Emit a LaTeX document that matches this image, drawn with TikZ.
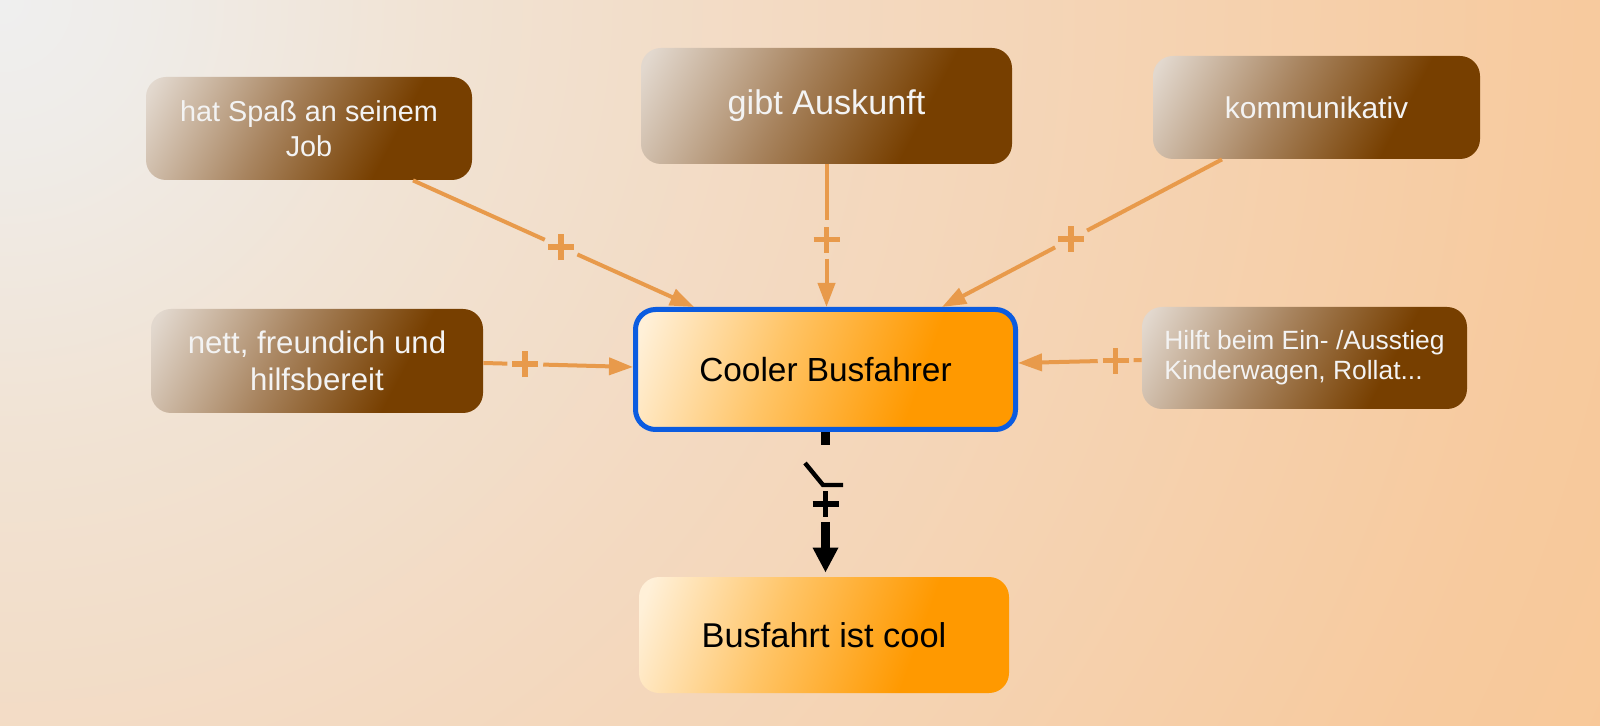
\documentclass[tikz,border=0pt]{standalone}
\usepackage{fontspec}
\setmainfont{Liberation Sans}
\usetikzlibrary{arrows.meta,calc}
\definecolor{brA}{HTML}{E2D8CE}
\definecolor{brB}{HTML}{A8845F}
\definecolor{brC}{HTML}{773F00}
\definecolor{orA}{HTML}{FFF0D8}
\definecolor{orB}{HTML}{FFC466}
\definecolor{orC}{HTML}{FF9900}
\definecolor{bg0}{HTML}{EFEFEF}
\definecolor{bg1}{HTML}{EFECE8}
\definecolor{bg2}{HTML}{F1E3D4}
\definecolor{bg3}{HTML}{F3DAC2}
\definecolor{bg4}{HTML}{F5D3B2}
\definecolor{bg5}{HTML}{F7CA9E}
\definecolor{bg6}{HTML}{F8C898}
\definecolor{connc}{HTML}{E89A4B}
\definecolor{blueb}{HTML}{0B5CE0}
\definecolor{txtw}{HTML}{F3F3F3}
\pgfdeclarehorizontalshading{brownsh}{100bp}{color(0bp)=(brA); color(18bp)=(brA); color(43bp)=(brB); color(66bp)=(brC); color(100bp)=(brC)}
\pgfdeclarehorizontalshading{orangesh}{100bp}{color(0bp)=(orA); color(20bp)=(orA); color(42bp)=(orB); color(65bp)=(orC); color(100bp)=(orC)}
\pgfdeclareradialshading{bgsh}{\pgfpointorigin}{color(0bp)=(bg0); color(2bp)=(bg1); color(6bp)=(bg2); color(11bp)=(bg3); color(16bp)=(bg4); color(22bp)=(bg5); color(25bp)=(bg6); color(50bp)=(bg6)}
\tikzset{
  plusmark/.pic={\draw[line width=2.8pt,line cap=butt] (-6.5pt,0pt) -- (6.5pt,0pt) (0pt,-6.5pt) -- (0pt,6.5pt);},
}
\begin{document}
\begin{tikzpicture}[x=0.5pt,y=-0.5pt,
  box/.style={rectangle, rounded corners=10pt, inner sep=0pt, align=center},
  brownbox/.style={box, shade, shading=brownsh, shading angle=-28, text=txtw},
  orangebox/.style={box, shade, shading=orangesh, shading angle=-20, text=black},
  conn/.style={draw=connc, line width=2pt},
  connarrow/.style={conn, -{Triangle[length=12pt,width=8.5pt]}},
  blk/.style={draw=black, line width=4.8pt},
]
\useasboundingbox (0,0) rectangle (1600,726);
\begin{scope}
  \clip (0,0) rectangle (1600,726);
  \shade[shading=bgsh] (-1800,-1800) rectangle (1800,1800);
\end{scope}

% nodes
\node[brownbox, minimum width=163pt, minimum height=51.5pt, font=\fontsize{14.4}{17.5}\selectfont] (spass) at (309,128.5) {hat Spaß an seinem\\Job};
\node[brownbox, minimum width=185.5pt, minimum height=58pt, font=\fontsize{17.1}{20}\selectfont] (auskunft) at (826.5,106) {gibt Auskunft};
\node[brownbox, minimum width=163.5pt, minimum height=51.5pt, font=\fontsize{15}{18}\selectfont] (komm) at (1316.5,107.5) {kommunikativ};
\node[brownbox, minimum width=166pt, minimum height=52pt, font=\fontsize{15.6}{18.5}\selectfont] (nett) at (317,361) {nett, freundich und\\hilfsbereit};
\node[brownbox, minimum width=162.5pt, minimum height=51pt, font=\fontsize{13.2}{15}\selectfont, align=left] (hilft) at (1304.5,358) {Hilft beim Ein- /Ausstieg\\Kinderwagen, Rollat...};
\node[orangebox, draw=blueb, line width=2.5pt, minimum width=190pt, minimum height=60pt, font=\fontsize{16.7}{20}\selectfont] (cooler) at (825.5,369.5) {Cooler Busfahrer};
\node[orangebox, minimum width=185pt, minimum height=58pt, font=\fontsize{17.2}{20}\selectfont] (busfahrt) at (824,635) {Busfahrt ist cool};

% edge 1: spass -> cooler
\path ([xshift=52pt]spass.south) -- ([xshift=-65.75pt]cooler.north)
  coordinate[pos=0.469] (e1a) coordinate[pos=0.527] (e1p) coordinate[pos=0.585] (e1b);
\draw[conn] ([xshift=52pt]spass.south) -- (e1a);
\draw[connarrow] (e1b) -- ([xshift=-65.75pt]cooler.north);
\pic[connc] (p1) at (e1p) {plusmark};

% edge 2: auskunft -> cooler
\path (auskunft.south) -- (auskunft.south |- cooler.north)
  coordinate[pos=0.391] (e2a) coordinate[pos=0.527] (e2p) coordinate[pos=0.660] (e2b);
\draw[conn] (auskunft.south) -- (e2a);
\draw[connarrow] (e2b) -- (auskunft.south |- cooler.north);
\pic[connc] (p2) at (e2p) {plusmark};

% edge 3: komm -> cooler
\path ([xshift=-47.25pt]komm.south) -- ([xshift=58.25pt]cooler.north)
  coordinate[pos=0.482] (e3a) coordinate[pos=0.539] (e3p) coordinate[pos=0.596] (e3b);
\draw[conn] ([xshift=-47.25pt]komm.south) -- (e3a);
\draw[connarrow] (e3b) -- ([xshift=58.25pt]cooler.north);
\pic[connc] (p3) at (e3p) {plusmark};

% edge 4: nett -> cooler
\path ([yshift=-1pt]nett.east) -- ([yshift=1.25pt]cooler.west)
  coordinate[pos=0.16] (e4a) coordinate[pos=0.28] (e4p) coordinate[pos=0.40] (e4b);
\draw[conn] ([yshift=-1pt]nett.east) -- (e4a);
\draw[connarrow] (e4b) -- ([yshift=1.25pt]cooler.west);
\pic[connc] (p4) at (e4p) {plusmark};

% edge 5: hilft -> cooler
\path ([yshift=-1pt]hilft.west) -- ([yshift=3.25pt]cooler.east)
  coordinate[pos=0.065] (e5a) coordinate[pos=0.21] (e5p) coordinate[pos=0.355] (e5b);
\draw[conn] ([yshift=-1pt]hilft.west) -- (e5a);
\draw[connarrow] (e5b) -- ([yshift=3.25pt]cooler.east);
\pic[connc] (p5) at (e5p) {plusmark};

% edge 6: cooler -> busfahrt (black, with delay mark)
\coordinate (c6) at (cooler.south);
\draw[blk] (c6) -- ($(c6)+(0,13)$);
\draw[line width=2.2pt] ($(c6)+(-20.5,31)$) -- ($(c6)+(-2.5,53)$) -- ($(c6)+(17.5,53)$);
\pic[black] (p6) at ($(c6)+(0,72)$) {plusmark};
\draw[blk, -{Triangle[length=12.5pt,width=12pt]}] ($(c6)+(0,90)$) -- ($(c6 |- busfahrt.north)+(0,-4)$);
\end{tikzpicture}
\end{document}
